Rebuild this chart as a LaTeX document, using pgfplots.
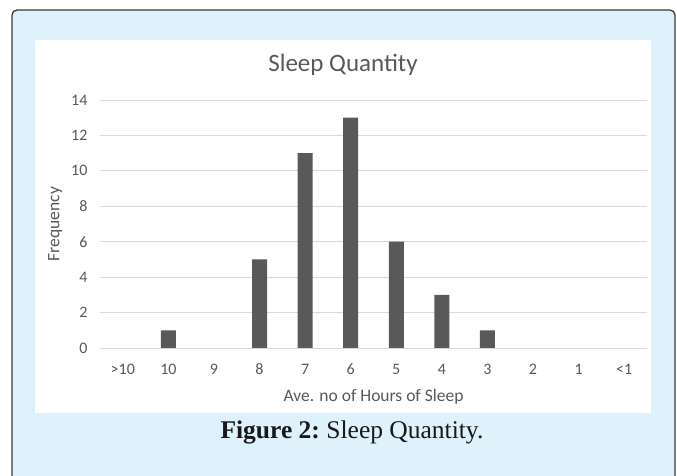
\documentclass[border=0pt]{standalone}
\usepackage{pgfplots}
\pgfplotsset{compat=1.18}
\usepackage{fontspec}
\setmainfont{Carlito}
\newfontfamily\capfont{Liberation Serif}
\definecolor{bgblue}{HTML}{DFF1FB}
\definecolor{bordergray}{HTML}{3A3A3A}
\definecolor{barcol}{HTML}{595959}
\definecolor{gridcol}{HTML}{D9D9D9}
\definecolor{txtcol}{HTML}{595959}
\begin{document}
\begin{tikzpicture}[x=1pt,y=1pt]
\path[use as bounding box] (0,0) rectangle (677,476);
% outer light-blue box (open at the bottom, cut by the page)
\fill[bgblue, rounded corners=5pt] (12,-10) -- (12,466) -- (675,466) -- (675,-10) -- cycle;
\begin{scope}
\clip (0,0) rectangle (677,476);
\draw[bordergray, line width=1.3pt, rounded corners=5pt] (12,-10) -- (12,466) -- (675,466) -- (675,-10);
\end{scope}
% white chart area
\fill[white] (35,63) rectangle (651,436);
% chart title
\node[font=\fontsize{25}{30}\selectfont, text=txtcol] at (343,411) {Sleep Quantity};
\begin{axis}[
  at={(100pt,128pt)}, anchor=south west,
  scale only axis, width=547pt, height=248pt,
  ybar, bar width=15pt,
  xmin=-0.5, xmax=11.5, ymin=0, ymax=14,
  xtick={0,1,2,3,4,5,6,7,8,9,10,11},
  xticklabels={{>10},10,9,8,7,6,5,4,3,2,1,{<1}},
  ytick={0,2,4,6,8,10,12,14},
  ymajorgrids, grid style={gridcol, line width=0.9pt},
  axis line style={draw=none},
  major tick length=0pt,
  tick style={draw=none},
  /pgf/number format/assume math mode=true,
  ticklabel style={font=\fontsize{16}{19}\selectfont, text=txtcol},
  yticklabel style={xshift=-9pt},
  xticklabel style={anchor=base, yshift=-27pt},
  xlabel={Ave. no of Hours of Sleep},
  ylabel={Frequency},
  label style={font=\fontsize{17.5}{21}\selectfont, text=txtcol},
  xlabel style={at={(axis description cs:0.5,-0.195)}, anchor=center},
  ylabel style={at={(axis description cs:-0.082,0.5)}, anchor=center, rotate=0},
  clip=false,
]
% categories with frequency 0 (>10, 9, 2, 1, <1) have no bar
\addplot[fill=barcol, draw=none] coordinates {
  (1,1) (3,5) (4,11) (5,13) (6,6) (7,3) (8,1)
};
\end{axis}
% caption
\node[font=\fontsize{25.5}{30}\selectfont, text=black!90] at (352,44) {\capfont\textbf{Figure 2:}\hspace{-2pt} Sleep Quantity.};
\end{tikzpicture}
\end{document}
